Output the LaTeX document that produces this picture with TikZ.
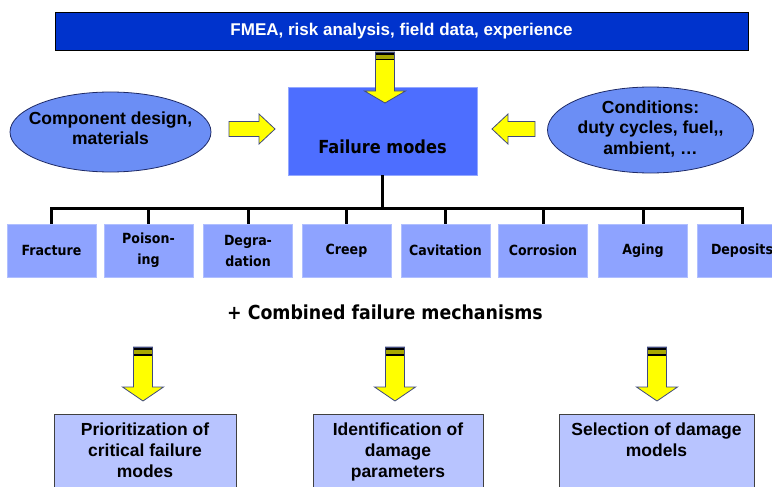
\documentclass[tikz,border=0pt]{standalone}
\usepackage{fontspec}
\setmainfont{Liberation Sans}
\newfontfamily\modefont{DejaVu Sans Condensed}
\usetikzlibrary{shapes.geometric}

\definecolor{barblue}{HTML}{0033CC}
\definecolor{coreblue}{HTML}{4D6EFF}
\definecolor{ellblue}{HTML}{6B8EF5}
\definecolor{modeblue}{HTML}{8EA3FF}
\definecolor{resblue}{HTML}{B8C4FF}
\definecolor{arrowyel}{HTML}{FFFF00}
\definecolor{stripeol}{HTML}{A8A800}
\definecolor{navyline}{HTML}{1E2A66}

% vertical block arrow: centre x, top, start of head, tip
\newcommand\yarrowdown[4]{%
  \draw[blockarrow] (#1-9.5,#2) -- (#1+9.5,#2) -- (#1+9.5,#3) -- (#1+20.5,#3)
    -- (#1,#4) -- (#1-20.5,#3) -- (#1-9.5,#3) -- cycle;
  \fill[black] (#1-9.5,#2) rectangle (#1+9.5,#2+3);
  \fill[stripeol] (#1-9.5,#2+3) rectangle (#1+9.5,#2+7);
  \fill[black] (#1-9.5,#2+7) rectangle (#1+9.5,#2+8.5);
  \draw[blockarrow,fill=none] (#1-9.5,#2) -- (#1+9.5,#2) -- (#1+9.5,#2+9) (#1-9.5,#2) -- (#1-9.5,#2+9);
}
% horizontal block arrow: tail x, head base x, tip x, centre y
\newcommand\yarrowside[4]{%
  \draw[blockarrow] (#1,#4-7.5) -- (#2,#4-7.5) -- (#2,#4-15) -- (#3,#4)
    -- (#2,#4+15) -- (#2,#4+7.5) -- (#1,#4+7.5) -- cycle;
}

\begin{document}
\begin{tikzpicture}[x=1pt,y=-1pt,
  topbar/.style={rectangle, fill=barblue, draw=black, line width=0.8pt,
    minimum width=693pt, minimum height=38pt, inner sep=0pt, text=white,
    font=\bfseries\fontsize{17}{20}\selectfont},
  corebox/.style={rectangle, fill=coreblue, draw=coreblue!60!white, line width=0.6pt,
    minimum width=189pt, minimum height=88pt, inner sep=0pt},
  coretext/.style={inner sep=0pt, font=\modefont\bfseries\fontsize{18}{21}\selectfont},
  inputell/.style={ellipse, fill=ellblue, draw=navyline, line width=0.8pt, inner sep=0pt},
  inputtext/.style={inner sep=0pt, align=center, font=\bfseries\fontsize{17.5}{20.5}\selectfont},
  modebox/.style={rectangle, fill=modeblue, draw=modeblue!70!white, line width=0.5pt,
    minimum width=89pt, minimum height=53pt, inner sep=0pt, align=center,
    font=\modefont\bfseries\fontsize{14}{21}\selectfont},
  treeline/.style={line width=3pt, draw=black},
  combtext/.style={inner sep=0pt, font=\modefont\bfseries\fontsize{19.3}{22}\selectfont},
  resbox/.style={rectangle, fill=resblue, draw=black!75, line width=0.9pt,
    minimum height=96pt, inner sep=0pt},
  restext/.style={inner sep=0pt, anchor=north, align=center,
    font=\bfseries\fontsize{17.5}{21}\selectfont},
  blockarrow/.style={fill=arrowyel, draw=navyline!85, line width=0.8pt, line join=miter}
]
\useasboundingbox (0,0) rectangle (772,487);
\clip (0,0) rectangle (772,487);

% sources of information
\node[topbar] (src) at (401.5,31) {FMEA, risk analysis, field data, experience};

% central block
\node[corebox] (core) at (382.5,131) {};
\node[coretext] (coret) at (382.5,147) {Failure modes};

% inputs
\node[inputell, minimum width=201pt, minimum height=80pt] (design) at (110.5,132) {};
\node[inputtext] (designt) at (110.5,128) {Component design,\\materials};
\node[inputell, minimum width=206pt, minimum height=86pt] (cond) at (650.5,130) {};
\node[inputtext] (condt) at (650.5,129) {Conditions:\\duty cycles, fuel,{},\\ambient, \dots};

% block arrows into the central block
\yarrowdown{385}{52}{91}{103}
\yarrowside{229}{259}{275}{129}
\yarrowside{535}{508}{492}{129}

% failure modes
\node[modebox] (m1) at (51.5,250.5) {Fracture};
\node[modebox] (m2) at (148.5,250.5) {Poison-\\ing};
\node[modebox] (m3) at (248,250.5) {Degra-\\dation};
\node[modebox] (m4) at (346.5,250.5) {Creep};
\node[modebox] (m5) at (445.5,250.5) {Cavitation};
\node[modebox] (m6) at (543,250.5) {Corrosion};
\node[modebox] (m7) at (643,250.5) {Aging};
\node[modebox] (m8) at (742,250.5) {Deposits};

% tree from the central block to the failure modes
\coordinate (bus) at (0,208);
\draw[treeline] (core.south) -- (core.south |- bus);
\draw[treeline] (m1.north) -- (m1.north |- bus) -- (m8.north |- bus) -- (m8.north);
\foreach \i in {2,...,7} {\draw[treeline] (m\i.north) -- (m\i.north |- bus);}

\node[combtext] (comb) at (385,312) {+ Combined failure mechanisms};

% results
\yarrowdown{143}{347}{387}{401}
\yarrowdown{395}{347}{387}{401}
\yarrowdown{657}{347}{387}{401}

\node[resbox, minimum width=182pt] (r1) at (145,462) {};
\node[resbox, minimum width=170pt] (r2) at (398,462) {};
\node[resbox, minimum width=195pt] (r3) at (656.5,462) {};
\node[restext] (r1t) at (145,423) {Prioritization of\\critical failure\\modes};
\node[restext] (r2t) at (398,423) {Identification of\\damage\\parameters};
\node[restext] (r3t) at (656.5,423) {Selection of damage\\models};
\end{tikzpicture}
\end{document}
